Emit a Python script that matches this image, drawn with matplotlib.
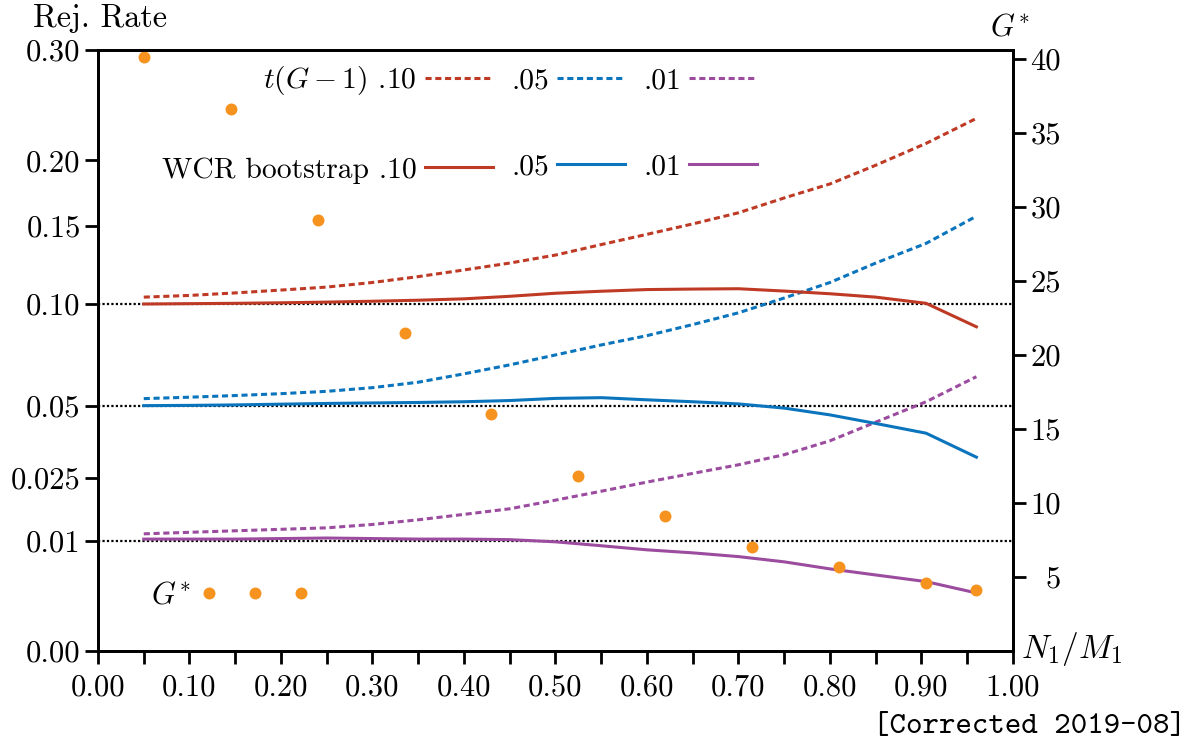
import numpy as np
import matplotlib.pyplot as plt

plt.rcParams['font.family'] = 'cmr10'
plt.rcParams['mathtext.fontset'] = 'cm'
plt.rcParams['axes.formatter.use_mathtext'] = True
plt.rcParams['axes.unicode_minus'] = False

# N1/M1 values for the rejection-rate curves
ratio = [0.05, 0.10, 0.15, 0.20, 0.25, 0.30, 0.35, 0.40, 0.45, 0.50,
         0.55, 0.60, 0.65, 0.70, 0.75, 0.80, 0.85, 0.905, 0.96]

# t(G-1) rejection rates
t10 = [0.1040, 0.1050, 0.1065, 0.1082, 0.1100, 0.1128, 0.1164, 0.1206, 0.1250, 0.1302,
       0.1372, 0.1442, 0.1515, 0.1595, 0.1705, 0.1812, 0.1960, 0.2140, 0.2356]
t05 = [0.0529, 0.0535, 0.0542, 0.0550, 0.0560, 0.0576, 0.0600, 0.0638, 0.0680, 0.0728,
       0.0778, 0.0826, 0.0885, 0.0950, 0.1035, 0.1128, 0.1250, 0.1380, 0.1570]
t01 = [0.0114, 0.0117, 0.0120, 0.0123, 0.0126, 0.0133, 0.0143, 0.0155, 0.0168, 0.0189,
       0.0212, 0.0237, 0.0262, 0.0288, 0.0320, 0.0367, 0.0435, 0.0516, 0.0625]

# WCR bootstrap rejection rates
w10 = [0.1000, 0.1002, 0.1004, 0.1007, 0.1011, 0.1016, 0.1022, 0.1030, 0.1045, 0.1063,
       0.1075, 0.1085, 0.1088, 0.1090, 0.1076, 0.1060, 0.1040, 0.1004, 0.0873]
w05 = [0.0500, 0.0501, 0.0503, 0.0506, 0.0509, 0.0511, 0.0513, 0.0516, 0.0521, 0.0530,
       0.0533, 0.0524, 0.0516, 0.0507, 0.0490, 0.0463, 0.0430, 0.0394, 0.0312]
w01 = [0.0104, 0.0104, 0.0104, 0.0105, 0.0106, 0.0105, 0.0104, 0.0104, 0.0103, 0.0099,
       0.0092, 0.0085, 0.0080, 0.0074, 0.0066, 0.0056, 0.0048, 0.0040, 0.0028]

# effective number of clusters
g_ratio = [0.05, 0.145, 0.24, 0.335, 0.43, 0.525, 0.62, 0.715, 0.81, 0.905, 0.96]
g_star = [40.1, 36.6, 29.1, 21.5, 16.0, 11.8, 9.1, 7.05, 5.7, 4.6, 4.15]

levels = [0.10, 0.05, 0.01]
rate_ticks = [0.0, 0.01, 0.025, 0.05, 0.10, 0.15, 0.20, 0.30]
rate_labels = ['0.00', '0.01', '0.025', '0.05', '0.10', '0.15', '0.20', '0.30']
g_ticks = [5, 10, 15, 20, 25, 30, 35, 40]
x_ticks = np.arange(0, 1.001, 0.1)

red = '#BF3A25'
blue = '#0A74BC'
purple = '#9B4C9F'
orange = '#F6921E'
fs = 22
lfs = 21.3
dash = (0, (2.0, 1.2))
gstar = r'$G^{\!*}$'

fig = plt.figure(figsize=(11.9, 7.46), dpi=100)
ax = fig.add_axes([0.08235, 0.12735, 0.76891, 0.80563])

# square-root scale for the rejection rates
ax.set_yscale('function', functions=(lambda v: np.sqrt(np.clip(v, 0, None)), lambda v: v ** 2))
ax.set_ylim(0, 0.30)
ax.set_xlim(0, 1)

for lev in levels:
    ax.axhline(lev, color='k', lw=1.6, ls=(0, (1, 1)), zorder=1)

h_t10, = ax.plot(ratio, t10, color=red, lw=2.2, ls=dash)
h_t05, = ax.plot(ratio, t05, color=blue, lw=2.2, ls=dash)
h_t01, = ax.plot(ratio, t01, color=purple, lw=2.2, ls=dash)
h_w10, = ax.plot(ratio, w10, color=red, lw=2.2)
h_w05, = ax.plot(ratio, w05, color=blue, lw=2.2)
h_w01, = ax.plot(ratio, w01, color=purple, lw=2.2)

ax.set_yticks(rate_ticks, rate_labels)
ax.set_xticks(x_ticks, ['%.2f' % v for v in x_ticks])
ax.set_xticks(np.arange(0.05, 1, 0.1), minor=True)
ax.tick_params(axis='both', which='both', direction='out', length=9.5, width=2,
               labelsize=fs, top=False, right=False)
ax.tick_params(axis='y', pad=3)
ax.tick_params(axis='x', pad=7)
for sp in ax.spines.values():
    sp.set_linewidth(2)

ax2 = ax.twinx()
ax2.set_ylim(0, 40.6)
dots, = ax2.plot(g_ratio, g_star, 'o', color=orange, ms=8.6, mec='none')
ax2.set_yticks(g_ticks, [str(v) for v in g_ticks], ha='right')
ax2.tick_params(axis='y', direction='out', length=9.5, width=2, labelsize=fs, pad=25)
for sp in ax2.spines.values():
    sp.set_linewidth(2)

ax.legend([h_t10, h_w10, h_t05, h_w05, h_t01, h_w01],
          ['$t(G-1)$ .10', 'WCR bootstrap .10', '.05', '.05', '.01', '.01'],
          ncol=3, markerfirst=False, frameon=False, fontsize=lfs,
          loc='center left', bbox_to_anchor=(0.07, 0.877), borderaxespad=0, borderpad=0,
          handlelength=2.3, handletextpad=0.27, columnspacing=0.62, labelspacing=2.03)
ax2.legend([dots], [gstar], numpoints=3, markerfirst=False, frameon=False, fontsize=fs,
           loc='center left', bbox_to_anchor=(0.058, 0.092), borderaxespad=0, borderpad=0,
           handlelength=3.6, handletextpad=0.3)

fig.text(33 / 1190, 1 - 27 / 746, 'Rej. Rate', fontsize=23.2, va='baseline', ha='left')
fig.text(1030 / 1190, 1 - 36 / 746, gstar, fontsize=fs, va='baseline', ha='right')
fig.text(1021 / 1190, 1 - 658 / 746, '$N_1/M_1$', fontsize=24, va='baseline', ha='left')
fig.text(1186.4 / 1190, 1 - 733 / 746, '[Corrected 2019-08]', family='cmtt10',
         fontsize=22.6, va='baseline', ha='right')

fig.savefig('out.png', dpi=100)
